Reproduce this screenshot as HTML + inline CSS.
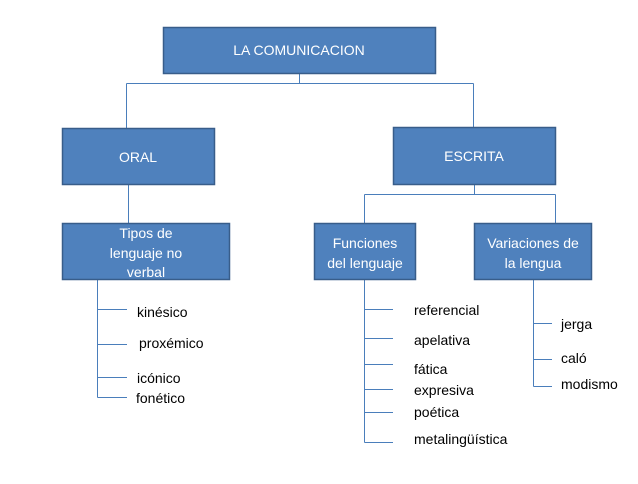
<!DOCTYPE html>
<html><head><meta charset="utf-8"><style>
body{margin:0;background:#fff;width:638px;height:479px;overflow:hidden;font-family:"Liberation Sans",sans-serif}
</style></head><body>
<svg width="638" height="479" xmlns="http://www.w3.org/2000/svg" font-family="Liberation Sans, sans-serif">
<g stroke="#4a7ebb" stroke-width="1" fill="none">
<path d="M299.5 73V83.5M126.5 83.5H473.5M126.5 83.5V128M473.5 83.5V128"/>
<path d="M128.5 184V223"/>
<path d="M474.5 184V194.5M364.5 194.5H555.5M364.5 194.5V223M555.5 194.5V223"/>
<path d="M97.5 279V397.5M97.5 309.5H127M97.5 344.5H127M97.5 377.5H127M97.5 397.5H127"/>
<path d="M364.5 279V442.5M364.5 309.5H393M364.5 338.5H393M364.5 364.5H393M364.5 389.5H393M364.5 412.5H393M364.5 442.5H393"/>
<path d="M533.5 279V386.5M533.5 323.5H552M533.5 359.5H552M533.5 386.5H552"/>
</g>
<g fill="#4f81bd" stroke="#385d8a" stroke-width="1.5">
<rect x="163.5" y="27.5" width="272" height="46"/>
<rect x="62.5" y="128.5" width="152" height="56"/>
<rect x="393.5" y="127.5" width="162" height="57"/>
<rect x="62.5" y="223.5" width="167" height="56"/>
<rect x="314.5" y="223.5" width="101" height="56"/>
<rect x="474.5" y="223.5" width="117" height="56"/>
</g>
<g fill="#fff" font-size="14" text-anchor="middle">
<text x="299" y="55">LA COMUNICACION</text>
<text x="138" y="162">ORAL</text>
<text x="474" y="161">ESCRITA</text>
<text x="146" y="238">Tipos de</text>
<text x="146" y="258">lenguaje no</text>
<text x="146" y="277">verbal</text>
<text x="365" y="248">Funciones</text>
<text x="365" y="268">del lenguaje</text>
<text x="533" y="248">Variaciones de</text>
<text x="533" y="268">la lengua</text>
</g>
<g fill="#000" font-size="14">
<text x="137" y="317">kinésico</text>
<text x="139" y="348">proxémico</text>
<text x="137" y="383">icónico</text>
<text x="136" y="403">fonético</text>
<text x="414" y="315">referencial</text>
<text x="414" y="345">apelativa</text>
<text x="414" y="374">fática</text>
<text x="414" y="395">expresiva</text>
<text x="414" y="417">poética</text>
<text x="414" y="444">metalingüística</text>
<text x="561" y="329">jerga</text>
<text x="561" y="363">caló</text>
<text x="561" y="389">modismo</text>
</g>
</svg>
</body></html>
